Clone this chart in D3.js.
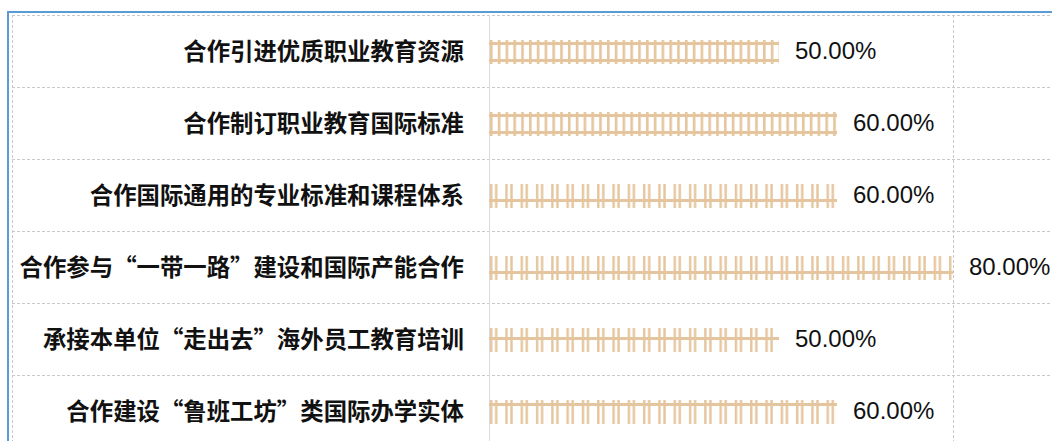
<!DOCTYPE html>
<html><head><meta charset="utf-8">
<script src="https://cdn.jsdelivr.net/npm/d3@7"></script>
<style>body{margin:0;background:#fff}svg{display:block}</style>
</head><body>
<svg id="c" width="1052" height="441"></svg>
<script>
const categories = [
  "合作引进优质职业教育资源",
  "合作制订职业教育国际标准",
  "合作国际通用的专业标准和课程体系",
  "合作参与“一带一路”建设和国际产能合作",
  "承接本单位“走出去”海外员工教育培训",
  "合作建设“鲁班工坊”类国际办学实体"
];
const values = [0.5, 0.6, 0.6, 0.8, 0.5, 0.6];
const barStyles = ["fence", "fence", "track", "track", "mid", "top"];
const valueLabels = ["50.00%", "60.00%", "60.00%", "80.00%", "50.00%", "60.00%"];

const svg = d3.select("#c");
const W = 1052, H = 441;
const color = "#E5C59D";

const y = d3.scaleBand().domain(categories).range([15, 447]).padding(0);
const x = d3.scaleLinear().domain([0, 0.8]).range([489, 953]);

// frame
svg.append("rect").attr("x", 8).attr("y", 12).attr("width", W).attr("height", H)
  .attr("fill", "none").attr("stroke", "#5B9BD5").attr("stroke-width", 2);

// grid
const grid = svg.append("g").attr("stroke", "#c9c9c9").attr("stroke-width", 1).attr("stroke-dasharray", "3,2");
const rowLines = categories.map(c => y(c)).concat([y(categories[categories.length-1]) + y.bandwidth()]);
rowLines.forEach(v => grid.append("line").attr("x1", 12).attr("x2", W).attr("y1", v + 0.5).attr("y2", v + 0.5));
grid.append("line").attr("x1", 12.5).attr("x2", 12.5).attr("y1", 15).attr("y2", H);
grid.append("line").attr("x1", x(0.8) + 0.5).attr("x2", x(0.8) + 0.5).attr("y1", 15).attr("y2", H);
svg.append("line").attr("x1", x(0) + 0.5).attr("x2", x(0) + 0.5).attr("y1", 15).attr("y2", H)
  .attr("stroke", "#dcdcdc").attr("stroke-width", 1);

// patterns
const defs = svg.append("defs");
const barH = 24;
categories.forEach((c, i) => {
  const st = barStyles[i];
  const top = y(c) + y.bandwidth() / 2 - barH / 2 + 1;
  const period = st === "fence" ? 7.8 : 15.3;
  const p = defs.append("pattern").attr("id", "p" + i).attr("patternUnits", "userSpaceOnUse")
    .attr("x", x(0)).attr("y", top).attr("width", period).attr("height", barH);
  if (st === "fence") {
    p.append("rect").attr("x", 1).attr("y", 0).attr("width", 2.6).attr("height", barH).attr("fill", color);
    p.append("rect").attr("x", 0).attr("y", 2).attr("width", period).attr("height", 3).attr("fill", color);
    p.append("rect").attr("x", 0).attr("y", 19).attr("width", period).attr("height", 3).attr("fill", color);
  } else {
    const railY = st === "track" ? 15 : st === "mid" ? 9 : 3;
    p.append("rect").attr("x", 1).attr("y", 0).attr("width", 2.4).attr("height", barH).attr("fill", color);
    p.append("rect").attr("x", 6).attr("y", 0).attr("width", 2.4).attr("height", barH).attr("fill", color);
    p.append("rect").attr("x", 0).attr("y", railY).attr("width", period).attr("height", 3).attr("fill", color);
  }
});

// bars
svg.append("g").selectAll("rect").data(categories).join("rect")
  .attr("x", x(0))
  .attr("y", c => y(c) + y.bandwidth() / 2 - barH / 2 + 1)
  .attr("width", (c, i) => x(values[i]) - x(0))
  .attr("height", barH)
  .attr("fill", (c, i) => "url(#p" + i + ")");

// category labels
svg.append("g").selectAll("text").data(categories).join("text")
  .attr("x", 464)
  .attr("y", c => y(c) + y.bandwidth() / 2 - 1)
  .attr("text-anchor", "end").attr("dominant-baseline", "central")
  .attr("font-family", "'Noto Sans CJK SC', sans-serif").attr("font-weight", "bold")
  .attr("font-size", 23.4).attr("fill", "#111")
  .text(d => d);

// value labels
svg.append("g").selectAll("text").data(categories).join("text")
  .attr("x", (c, i) => x(values[i]) + 16)
  .attr("y", c => y(c) + y.bandwidth() / 2 - 1)
  .attr("dominant-baseline", "central")
  .attr("font-family", "'Liberation Sans', sans-serif")
  .attr("font-size", 24).attr("fill", "#111")
  .text((c, i) => valueLabels[i]);
</script>
</body></html>
